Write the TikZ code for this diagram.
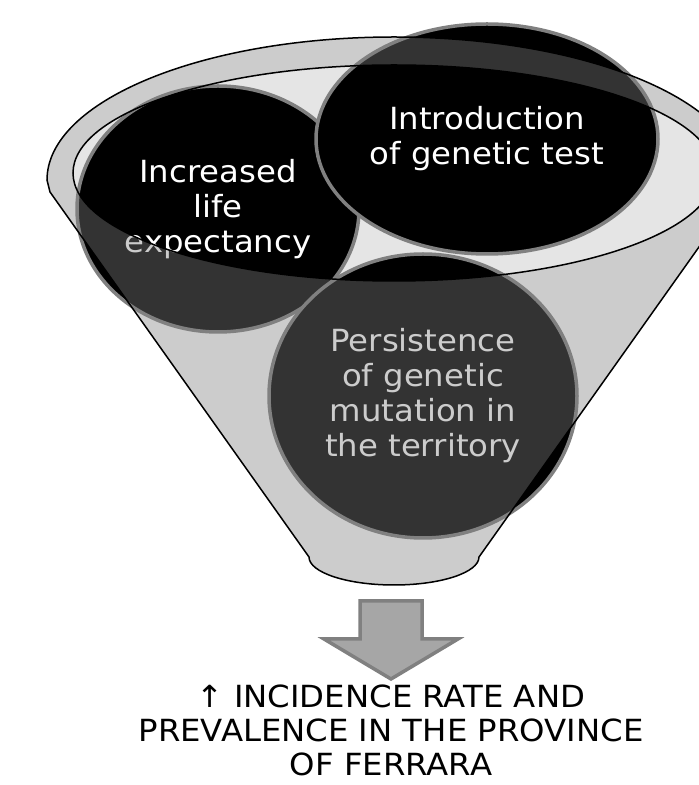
\documentclass[tikz,border=0pt]{standalone}
\usepackage{fontspec}
\setmainfont{DejaVu Sans}[FakeStretch=1.06]
\usetikzlibrary{shapes.geometric}
\definecolor{rimgray}{HTML}{808080}
\definecolor{mouthgray}{HTML}{E5E5E5}
\definecolor{arrowgray}{HTML}{A6A6A6}

\begin{document}
\begin{tikzpicture}[x=1pt, y=1pt, every node/.style={font=\fontsize{30.5}{35}\selectfont},
	bubble/.style={ellipse, fill=black, draw=rimgray, line width=3.5pt, text=white, align=center, inner sep=0pt}]
	\useasboundingbox (0,0) rectangle (699,785);
	\clip (0,0) rectangle (699,785);
	\fill[white] (0,0) rectangle (699,785);
	% mouth of the funnel, behind the bubbles
	\fill[mouthgray] (394,612) ellipse [x radius=321pt, y radius=108pt];
	\node[bubble, minimum width=282pt, minimum height=246pt] (life) at (218,576) {Increased\\life\\expectancy};
	\node[bubble, minimum width=342pt, minimum height=230pt] (test) at (487,646) {Introduction\\of genetic test};
	\node[bubble, minimum width=308pt, minimum height=284pt] (mutation) at (423,389) {Persistence\\of genetic\\mutation in\\the territory};
	% funnel body, see-through over the bubbles
	\fill[rimgray, opacity=0.4, even odd rule] (47,605) arc[start angle=180, end angle=0, x radius=347pt, y radius=143pt] -- (738,593) -- (479,228)
		arc[start angle=0, end angle=-180, x radius=85pt, y radius=28pt] -- (50,593) -- cycle
		(394,612) ellipse [x radius=321pt, y radius=108pt];
	\draw[line width=1.5pt] (47,605) arc[start angle=180, end angle=0, x radius=347pt, y radius=143pt] -- (738,593) -- (479,228)
		arc[start angle=0, end angle=-180, x radius=85pt, y radius=28pt] -- (50,593) -- cycle;
	\draw[line width=1.5pt] (394,612) ellipse [x radius=321pt, y radius=108pt];
	% block arrow
	\draw[rimgray, fill=arrowgray, line width=3.5pt] (360,184) -- (422,184) -- (422,146) -- (458,146) -- (391,106) -- (324,146) -- (360,146) -- cycle;
	\node[anchor=north, align=center, inner sep=0pt, font=\fontsize{30.5}{34}\selectfont] (result) at (391,100) {↑ INCIDENCE RATE AND\\PREVALENCE IN THE PROVINCE\\OF FERRARA};
\end{tikzpicture}
\end{document}
